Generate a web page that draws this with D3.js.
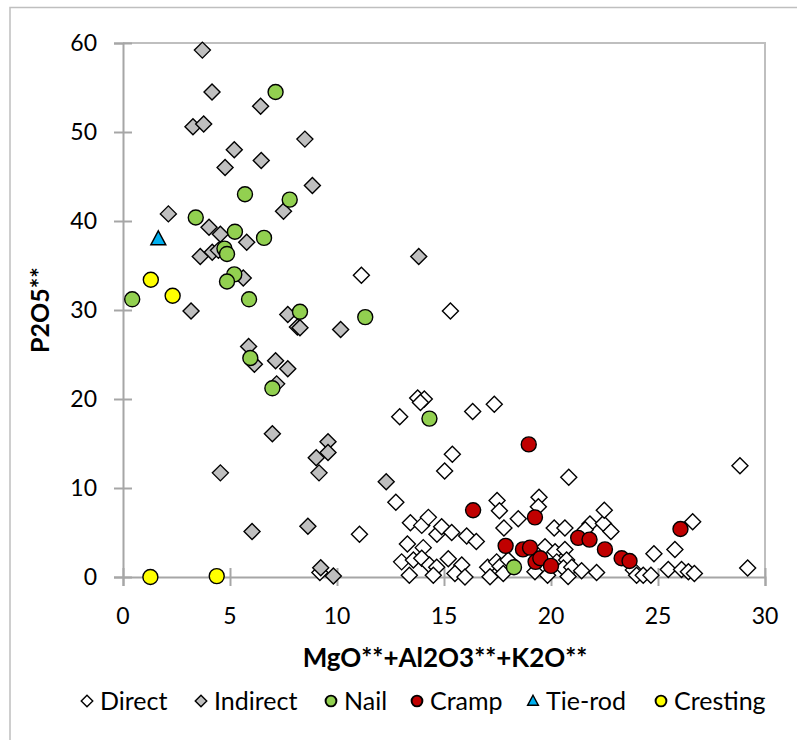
<!DOCTYPE html>
<html>
<head>
<meta charset="utf-8">
<script src="https://cdn.jsdelivr.net/npm/d3@7"></script>
<style>
    body { margin: 0; background: #fff; }
    text { font-family: Lato, "Open Sans", sans-serif; fill: #000; }
</style>
</head>
<body>
<div id="chart"></div>
<script>

/* * * * * * * * * * * * * *
*         DATA             *
* * * * * * * * * * * * * */

const xTicks = [0, 5, 10, 15, 20, 25, 30];
const yTicks = [0, 10, 20, 30, 40, 50, 60];

const seriesNames = ["Direct", "Indirect", "Nail", "Cramp", "Tie-rod", "Cresting"];

// [MgO**+Al2O3**+K2O**, P2O5**]
const direct = [
    [11.14, 33.9], [15.3, 29.9], [13.77, 20.1], [14.08, 20.0], [13.9, 19.6], [12.93, 18.0],
    [16.34, 18.6], [17.35, 19.4], [28.83, 12.5], [20.83, 11.2], [15.39, 13.8], [15.03, 11.9],
    [12.75, 8.4], [11.05, 4.8], [9.2, 0.5], [13.43, 6.1], [13.96, 5.8], [14.27, 6.7],
    [14.67, 4.8], [14.89, 5.65], [15.36, 5.0], [16.06, 4.6], [16.51, 4.0], [13.29, 3.7],
    [14.03, 3.3], [13.02, 1.7], [13.57, 1.9], [13.38, 0.2], [13.96, 2.1], [14.32, 1.35],
    [14.66, 1.1], [14.5, 0.2], [15.2, 2.05], [15.83, 1.35], [15.51, 0.4], [15.98, 0.0],
    [17.04, 1.1], [17.15, 0.03], [17.46, 1.7], [17.62, 1.2], [17.77, 0.4], [18.0, 1.9],
    [17.48, 8.6], [17.59, 7.45], [19.44, 8.95], [19.41, 7.9], [18.47, 6.55], [17.8, 5.5],
    [19.25, 0.6], [20.15, 5.5], [20.65, 5.5], [21.82, 5.95], [22.45, 6.0], [22.8, 5.1],
    [21.6, 5.3], [22.49, 7.5], [19.72, 3.4], [20.19, 2.85], [20.65, 3.1], [20.27, 1.7],
    [20.73, 1.9], [20.58, 1.0], [20.97, 1.1], [19.84, 0.2], [20.8, 0.05], [21.43, 0.7],
    [22.13, 0.5], [23.85, 0.8], [24.0, 0.2], [24.31, 0.2], [24.67, 0.2], [24.81, 2.6],
    [25.79, 3.1], [25.48, 0.85], [26.1, 0.85], [26.42, 0.6], [26.7, 0.4], [26.62, 6.2],
    [29.19, 1.0]
];

const indirect = [
    [3.71, 59.2], [4.16, 54.5], [6.43, 52.9], [3.27, 50.6], [3.77, 50.9], [8.5, 49.2],
    [5.2, 48.0], [6.46, 46.8], [4.77, 46.0], [8.85, 44.0], [7.5, 41.1], [2.12, 40.8],
    [4.02, 39.3], [4.55, 38.5], [5.78, 37.6], [4.17, 36.5], [4.46, 36.7], [3.61, 36.0],
    [5.62, 33.6], [3.18, 29.9], [7.7, 29.5], [8.15, 28.1], [8.27, 28.0], [10.17, 27.8],
    [5.87, 25.9], [6.14, 23.9], [7.13, 24.3], [7.7, 23.4], [7.18, 21.7], [6.98, 16.1],
    [4.55, 11.7], [9.58, 15.2], [9.58, 14.0], [9.03, 13.4], [9.16, 11.7], [6.03, 5.1],
    [8.64, 5.7], [9.24, 1.05], [9.83, 0.1], [13.82, 36.0], [12.3, 10.7]
];

const nail = [
    [7.13, 54.5], [5.7, 43.0], [7.79, 42.4], [3.4, 40.4], [5.23, 38.8], [6.59, 38.1],
    [4.74, 36.9], [4.86, 36.3], [0.43, 31.2], [5.2, 34.0], [4.86, 33.2], [5.89, 31.2],
    [8.27, 29.8], [11.32, 29.2], [5.95, 24.6], [6.98, 21.2], [14.32, 17.8], [18.27, 1.1]
];

const cramp = [
    [18.96, 14.9], [16.36, 7.5], [19.25, 6.7], [17.88, 3.5], [18.69, 3.1], [19.02, 3.3],
    [19.28, 1.7], [19.5, 2.1], [20.0, 1.25], [21.27, 4.4], [21.8, 4.2], [22.52, 3.1],
    [23.3, 2.1], [23.67, 1.8], [26.05, 5.4]
];

const tieRod = [[1.65, 38.0]];

const cresting = [[1.3, 33.4], [2.32, 31.6], [1.28, 0.0], [4.38, 0.1]];


/* * * * * * * * * * * * * *
*         CHART            *
* * * * * * * * * * * * * */

const width = 797, height = 740;
const plot = {left: 123, right: 765, top: 43, bottom: 577};

const svg = d3.select("#chart").append("svg")
    .attr("width", width)
    .attr("height", height);

svg.append("rect")
    .attr("width", width).attr("height", height)
    .attr("fill", "#fff");

// chart area border (runs off the right and bottom of the picture)
svg.append("rect")
    .attr("x", 10).attr("y", 7.5)
    .attr("width", width + 20).attr("height", height + 20)
    .attr("fill", "none")
    .attr("stroke", "#bfbfbf")
    .attr("stroke-width", 1.5);

const x = d3.scaleLinear().domain([0, 30]).range([plot.left, plot.right]);
const y = d3.scaleLinear().domain([0, 60]).range([plot.bottom, plot.top]);

// plot area border on top and right
svg.append("path")
    .attr("d", `M${plot.left},${plot.top}H${plot.right}V${plot.bottom}`)
    .attr("fill", "none")
    .attr("stroke", "#bfbfbf")
    .attr("stroke-width", 2);

// axes with ticks that cross the line
const xAxis = svg.append("g")
    .attr("transform", "translate(0," + plot.bottom + ")")
    .call(d3.axisBottom(x).tickValues(xTicks).tickSize(9).tickFormat(""));
xAxis.selectAll("line").attr("y1", -9);

const yAxis = svg.append("g")
    .attr("transform", "translate(" + plot.left + ",0)")
    .call(d3.axisLeft(y).tickValues(yTicks).tickSize(9).tickFormat(""));
yAxis.selectAll("line").attr("x1", 9);

svg.selectAll(".domain").attr("stroke", "#a6a6a6").attr("stroke-width", 2);
svg.selectAll(".tick line").attr("stroke", "#a6a6a6").attr("stroke-width", 2);

// tick labels
svg.append("g").selectAll("text")
    .data(xTicks)
    .join("text")
    .attr("x", d => x(d))
    .attr("y", 624)
    .attr("text-anchor", "middle")
    .style("font-size", "23px")
    .text(d => d);

svg.append("g").selectAll("text")
    .data(yTicks)
    .join("text")
    .attr("x", 97)
    .attr("y", d => y(d) + 8)
    .attr("text-anchor", "end")
    .style("font-size", "23px")
    .text(d => d);

// axis titles
svg.append("text")
    .attr("x", 445)
    .attr("y", 667)
    .attr("text-anchor", "middle")
    .style("font-size", "26px")
    .style("font-weight", "bold")
    .text("MgO**+Al2O3**+K2O**");

svg.append("text")
    .attr("transform", "translate(49,310) rotate(-90)")
    .attr("text-anchor", "middle")
    .style("font-size", "25px")
    .style("font-weight", "bold")
    .text("P2O5**");


/* * * * * * * * * * * * * *
*         MARKERS          *
* * * * * * * * * * * * * */

const diamond = "M0,-8L8,0L0,8L-8,0Z";
const triangle = "M0,-8L7.5,6L-7.5,6Z";

const styles = {
    "Direct":   {data: direct,   shape: "diamond",  fill: "#ffffff"},
    "Indirect": {data: indirect, shape: "diamond",  fill: "#bfbfbf"},
    "Nail":     {data: nail,     shape: "circle",   fill: "#92d050"},
    "Cramp":    {data: cramp,    shape: "circle",   fill: "#c00000"},
    "Tie-rod":  {data: tieRod,   shape: "triangle", fill: "#00b0f0"},
    "Cresting": {data: cresting, shape: "circle",   fill: "#ffff00"}
};

function drawMarker(sel, s, size) {
    const k = size || 1;
    if (s.shape == "circle") {
        sel.append("circle").attr("r", 7.5 * k);
    } else if (s.shape == "diamond") {
        sel.append("path").attr("d", diamond).attr("transform", "scale(" + k + ")");
    } else {
        sel.append("path").attr("d", triangle).attr("transform", "scale(" + k + ")");
    }
    sel.selectAll("circle, path")
        .attr("fill", s.fill)
        .attr("stroke", "#000")
        .attr("stroke-width", 1.4 / k);
}

seriesNames.forEach(name => {
    const s = styles[name];
    svg.append("g").selectAll("g")
        .data(s.data)
        .join("g")
        .attr("transform", d => "translate(" + x(d[0]) + "," + y(d[1]) + ")")
        .each(function() { drawMarker(d3.select(this), s); });
});


/* * * * * * * * * * * * * *
*         LEGEND           *
* * * * * * * * * * * * * */

const legendX = [87, 201, 331, 417, 533, 661];

const legend = svg.append("g").selectAll("g")
    .data(seriesNames)
    .join("g")
    .attr("transform", (d, i) => "translate(" + legendX[i] + ",701)");

legend.each(function(d) {
    drawMarker(d3.select(this), styles[d], 0.72);
});

legend.append("text")
    .attr("x", 13)
    .attr("y", 9)
    .style("font-size", "25px")
    .text(d => d);

</script>
</body>
</html>
